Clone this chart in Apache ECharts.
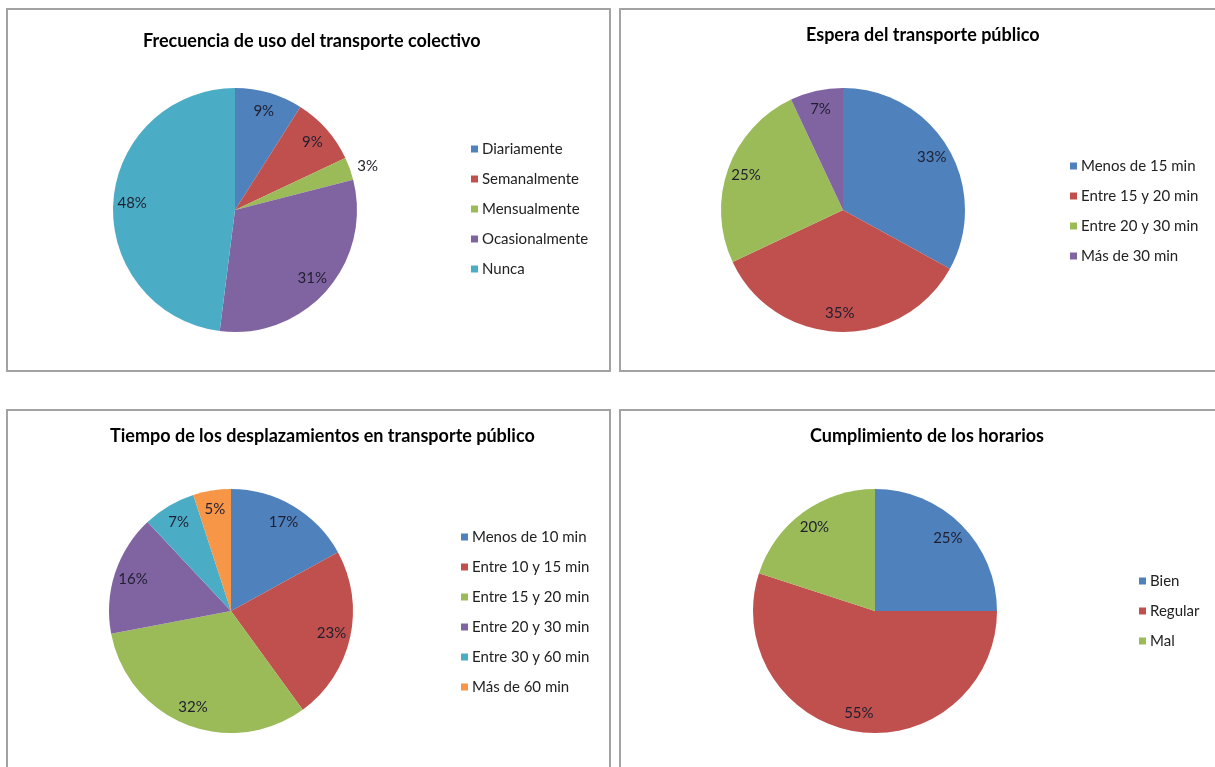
<!DOCTYPE html>
<html>
<head>
<meta charset="utf-8">
<script src="https://cdn.jsdelivr.net/npm/echarts@6/dist/echarts.min.js"></script>
<style>
  html, body { margin: 0; padding: 0; background: #fff; overflow: hidden; width: 1215px; height: 767px; }
  .chart { position: absolute; }
  .frame { position: absolute; box-sizing: border-box; border: 2px solid #a3a3a3; pointer-events: none; }
</style>
</head>
<body>
<div id="c1" class="chart" style="left:6px;top:8px;width:605px;height:364px"></div>
<div id="c2" class="chart" style="left:619px;top:8px;width:605px;height:364px"></div>
<div id="c3" class="chart" style="left:6px;top:409px;width:605px;height:370px"></div>
<div id="c4" class="chart" style="left:619px;top:409px;width:605px;height:370px"></div>
<div class="frame" style="left:6px;top:8px;width:605px;height:364px"></div>
<div class="frame" style="left:619px;top:8px;width:605px;height:364px"></div>
<div class="frame" style="left:6px;top:409px;width:605px;height:370px"></div>
<div class="frame" style="left:619px;top:409px;width:605px;height:370px"></div>
<script>
// ---- Data ----
const title1 = 'Frecuencia de uso del transporte colectivo';
const cats1 = ['Diariamente', 'Semanalmente', 'Mensualmente', 'Ocasionalmente', 'Nunca'];
const vals1 = [9, 9, 3, 31, 48];

const title2 = 'Espera del transporte público';
const cats2 = ['Menos de 15 min', 'Entre 15 y 20 min', 'Entre 20 y 30 min', 'Más de 30 min'];
const vals2 = [33, 35, 25, 7];

const title3 = 'Tiempo de los desplazamientos en transporte público';
const cats3 = ['Menos de 10 min', 'Entre 10 y 15 min', 'Entre 15 y 20 min', 'Entre 20 y 30 min', 'Entre 30 y 60 min', 'Más de 60 min'];
const vals3 = [17, 23, 32, 16, 7, 5];

const title4 = 'Cumplimiento de los horarios';
const cats4 = ['Bien', 'Regular', 'Mal'];
const vals4 = [25, 55, 20];

const palette = ['#4F81BD', '#C0504D', '#9BBB59', '#8064A2', '#4BACC6', '#F79646'];
const FONT = 'Lato, "Open Sans", sans-serif';

function makeChart(el, cfg) {
  const chart = echarts.init(document.getElementById(el), null, { renderer: 'canvas' });
  const R = 122;
  const pieData = cfg.cats.map((n, i) => ({ name: n, value: cfg.vals[i] }));
  const labelData = cfg.cats.map((n, i) => {
    const d = { name: n, value: cfg.vals[i] };
    if (cfg.outside && cfg.outside.indexOf(i) >= 0) {
      d.label = { position: 'outside', distanceToLabelLine: 0 };
      d.labelLine = { show: false, length: 8, length2: 0 };
    }
    return d;
  });
  chart.setOption({
    animation: false,
    color: palette,
    title: {
      text: cfg.title,
      left: cfg.titleLeft,
      top: cfg.titleTop,
      textStyle: { fontFamily: FONT, fontSize: 18, fontWeight: 'bold', color: '#000' }
    },
    legend: {
      orient: 'vertical',
      left: cfg.legendLeft,
      top: cfg.legendTop,
      data: cfg.cats,
      icon: 'rect',
      itemWidth: 7,
      itemHeight: 7,
      itemGap: 14,
      selectedMode: false,
      textStyle: { fontFamily: FONT, fontSize: 15, color: '#222', lineHeight: 16, padding: [0, 0, 0, -1] }
    },
    series: [
      {
        type: 'pie',
        center: cfg.center,
        radius: R,
        startAngle: 90,
        clockwise: true,
        data: pieData,
        label: { show: false },
        labelLine: { show: false },
        itemStyle: { borderWidth: 0 },
        emphasis: { disabled: true }
      },
      {
        type: 'pie',
        center: cfg.center,
        radius: [R * 0.64, R],
        startAngle: 90,
        clockwise: true,
        silent: true,
        avoidLabelOverlap: false,
        data: labelData,
        itemStyle: { color: 'rgba(0,0,0,0)', borderWidth: 0 },
        label: {
          show: true,
          position: 'inside',
          formatter: '{c}%',
          fontFamily: FONT,
          fontSize: 15,
          color: '#1f1f30'
        },
        labelLine: { show: false },
        emphasis: { disabled: true }
      }
    ]
  });
}

makeChart('c1', { title: title1, cats: cats1, vals: vals1, center: [229, 202], titleTop: 19, titleLeft: 132,
  legendLeft: 460, legendTop: 128, outside: [2] });
makeChart('c2', { title: title2, cats: cats2, vals: vals2, center: [224, 202], titleTop: 13, titleLeft: 182,
  legendLeft: 446, legendTop: 145 });
makeChart('c3', { title: title3, cats: cats3, vals: vals3, center: [225, 202], titleTop: 13, titleLeft: 99,
  legendLeft: 450, legendTop: 115 });
makeChart('c4', { title: title4, cats: cats4, vals: vals4, center: [256, 202], titleTop: 13, titleLeft: 186,
  legendLeft: 515, legendTop: 159 });
</script>
</body>
</html>
